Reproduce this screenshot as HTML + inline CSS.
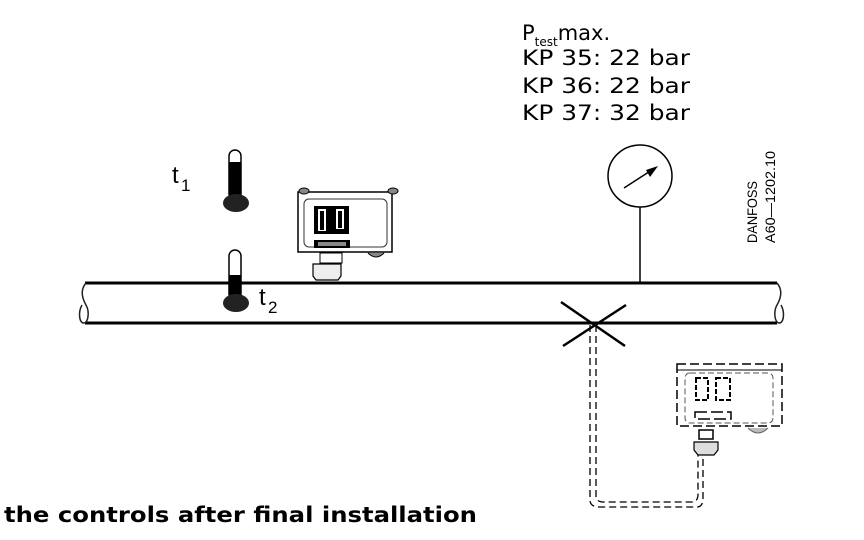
<!DOCTYPE html>
<html><head><style>
body{margin:0;background:#fff;}
svg{display:block;font-family:"DejaVu Sans",sans-serif;}
</style></head><body>
<svg width="864" height="540" viewBox="0 0 864 540">
<text x="522" y="40" font-size="21">P<tspan font-size="12" dy="6">test</tspan><tspan dy="-6">max.</tspan></text>
<text x="522" y="65" font-size="21" textLength="168" lengthAdjust="spacingAndGlyphs">KP 35: 22 bar</text>
<text x="522" y="93" font-size="21" textLength="168" lengthAdjust="spacingAndGlyphs">KP 36: 22 bar</text>
<text x="522" y="120" font-size="21" textLength="168" lengthAdjust="spacingAndGlyphs">KP 37: 32 bar</text>
<line x1="85" y1="283" x2="777" y2="283" stroke="#000" stroke-width="3"/>
<line x1="85" y1="323" x2="777" y2="323" stroke="#000" stroke-width="3"/>
<path d="M86,283 C80,290 82,298 86,305 C90,312 88,323 84,323 C79,323 78,312 82,305" fill="none" stroke="#222" stroke-width="1.5"/>
<path d="M777,283 C783,290 781,298 777,305 C773,312 775,323 779,323 C784,323 785,312 781,305" fill="none" stroke="#222" stroke-width="1.5"/>
<ellipse cx="640" cy="176" rx="32" ry="31" fill="#fff" stroke="#000" stroke-width="1.5"/>
<line x1="624" y1="188" x2="655" y2="168" stroke="#000" stroke-width="1.5"/>
<polygon points="658,166 646,170 650,177" fill="#000"/>
<line x1="640" y1="207" x2="640" y2="283" stroke="#000" stroke-width="1.5"/>
<line x1="561" y1="302" x2="625" y2="346" stroke="#000" stroke-width="2.5"/>
<line x1="563" y1="346" x2="626" y2="305" stroke="#000" stroke-width="2.5"/>
<path d="M590,325 V500 Q590,507 600,507 H697 Q703,507 703,498 V455" fill="none" stroke="#000" stroke-width="1.3" stroke-dasharray="7,4"/>
<path d="M596,325 V496 Q596,502 604,502 H692 Q698,502 698,494 V455" fill="none" stroke="#000" stroke-width="1.3" stroke-dasharray="7,4"/>
<rect x="677" y="364" width="105" height="62" fill="none" stroke="#000" stroke-width="1.5" stroke-dasharray="9,4"/>
<line x1="677" y1="370" x2="782" y2="370" stroke="#000" stroke-width="1"/>
<rect x="685" y="373" width="88" height="50" rx="5" fill="none" stroke="#555" stroke-width="1" stroke-dasharray="6,3"/>
<rect x="696" y="378" width="12" height="22" fill="none" stroke="#000" stroke-width="2" stroke-dasharray="5,2"/>
<rect x="716" y="378" width="14" height="22" fill="none" stroke="#000" stroke-width="2" stroke-dasharray="5,2"/>
<rect x="695" y="412" width="36" height="7" fill="none" stroke="#000" stroke-width="1.5" stroke-dasharray="12,4"/>
<rect x="699" y="430" width="14" height="9" fill="#fff" stroke="#000" stroke-width="1.5"/>
<path d="M694,442 h24 v8 l-4,5 h-16 l-4,-5z" fill="#ddd" stroke="#000" stroke-width="1.2"/>
<path d="M748,428 q10,10 20,0" fill="#bbb" stroke="#666"/>
<text transform="translate(757,243) rotate(-90)" font-size="14" font-family="Liberation Sans Narrow,Liberation Sans,sans-serif" textLength="62" lengthAdjust="spacingAndGlyphs">DANFOSS</text>
<text transform="translate(775,243) rotate(-90)" font-size="14" font-family="Liberation Sans Narrow,Liberation Sans,sans-serif" textLength="92" lengthAdjust="spacingAndGlyphs">A60—1202.10</text>
<rect x="229" y="150" width="12" height="50" rx="6" fill="#fff" stroke="#000" stroke-width="1.5"/>
<rect x="229" y="162" width="12" height="40" fill="#000"/>
<ellipse cx="236" cy="203" rx="13" ry="9" fill="#222"/>
<rect x="229" y="250" width="12" height="50" rx="6" fill="#fff" stroke="#000" stroke-width="1.5"/>
<rect x="229" y="275" width="12" height="27" fill="#000"/>
<ellipse cx="236" cy="303" rx="13" ry="9" fill="#222"/>
<text x="172" y="183" font-size="24" font-family="Liberation Sans,sans-serif">t</text><text x="181" y="191" font-size="17" font-family="Liberation Sans,sans-serif">1</text>
<text x="259" y="305" font-size="24" font-family="Liberation Sans,sans-serif">t</text><text x="268" y="313" font-size="17" font-family="Liberation Sans,sans-serif">2</text>
<rect x="298" y="192" width="94" height="60" fill="#fff" stroke="#000" stroke-width="1.5"/>
<ellipse cx="304" cy="191" rx="5" ry="3" fill="#888" stroke="#000"/>
<ellipse cx="393" cy="191" rx="5" ry="3" fill="#888" stroke="#000"/>
<rect x="304" y="199" width="83" height="48" rx="5" fill="none" stroke="#333"/>
<rect x="314" y="206" width="35" height="28" fill="#000"/>
<rect x="318" y="209" width="8" height="22" fill="#fff"/><rect x="320" y="211" width="4" height="19" fill="#000"/>
<rect x="336" y="209" width="8" height="20" fill="#fff"/><rect x="338" y="211" width="4" height="17" fill="#000"/>
<rect x="314" y="240" width="36" height="8" fill="#000"/>
<rect x="318" y="242" width="28" height="4" fill="#888"/>
<rect x="320" y="253" width="22" height="10" fill="#fff" stroke="#000"/>
<path d="M313,264 h28 v12 l-3,4 h-22 l-3,-4z" fill="#eee" stroke="#000" stroke-width="1.2"/>
<path d="M368,253 q8,8 16,0" fill="#888" stroke="#000"/>
<text x="4" y="522" font-size="21" font-weight="bold" textLength="473" lengthAdjust="spacingAndGlyphs">the controls after final installation</text>
</svg>
</body></html>
